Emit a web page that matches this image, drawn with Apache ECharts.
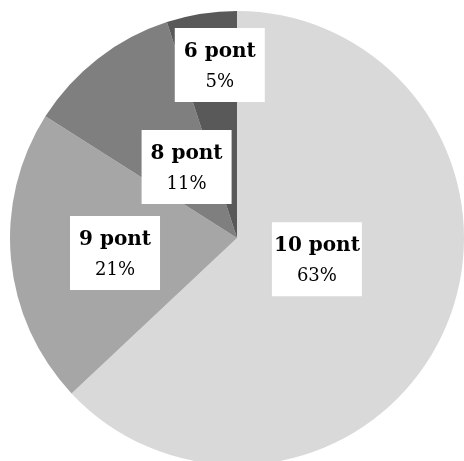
<!DOCTYPE html>
<html><head><meta charset="utf-8">
<script src="https://cdn.jsdelivr.net/npm/echarts@6/dist/echarts.min.js"></script>
<style>html,body{margin:0;padding:0;background:#fff}#c{width:464px;height:461px}</style>
</head><body><div id="c"></div>
<script>
const categories = ['10 pont', '9 pont', '8 pont', '6 pont'];
const percents = [63, 21, 11, 5];
const colors = ['#d9d9d9', '#a6a6a6', '#7f7f7f', '#595959'];
const labelShift = [[-27, -25], [-6, 4], [21, 21], [1, -58]];

const chart = echarts.init(document.getElementById('c'), null, {renderer: 'canvas'});
chart.setOption({
  animation: false,
  series: [{
    type: 'pie',
    center: [237, 238],
    radius: [0, 227],
    startAngle: 90,
    clockwise: true,
    avoidLabelOverlap: false,
    itemStyle: {borderWidth: 0},
    emphasis: {disabled: true},
    label: {
      show: true,
      position: 'inner',
      backgroundColor: '#fff',
      width: 74,
      overflow: 'none',
      padding: [8, 8, 6, 8],
      align: 'center',
      formatter: p => '{n|' + p.name + '}\n{v|' + p.value + '%}',
      rich: {
        n: {fontFamily: 'DejaVu Serif', fontWeight: 'bold', fontSize: 20, color: '#000', lineHeight: 32, align: 'center'},
        v: {fontFamily: 'DejaVu Serif', fontSize: 18, color: '#000', lineHeight: 28, align: 'center'}
      }
    },
    labelLayout: p => ({dx: labelShift[p.dataIndex][0], dy: labelShift[p.dataIndex][1]}),
    data: categories.map((c, i) => ({name: c, value: percents[i], itemStyle: {color: colors[i]}}))
  }]
});
</script></body></html>
